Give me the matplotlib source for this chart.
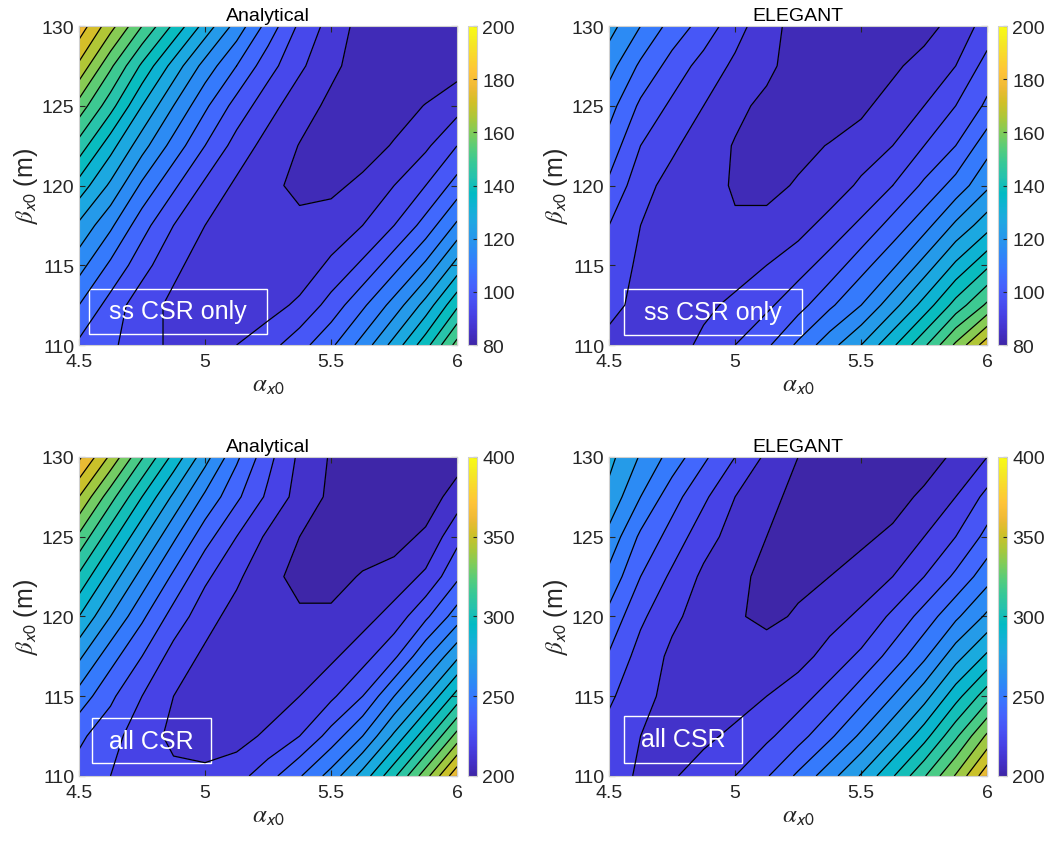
import numpy as np
import matplotlib
matplotlib.use('Agg')
import matplotlib.pyplot as plt
from matplotlib.colors import LinearSegmentedColormap, Normalize
from matplotlib.patches import Rectangle

# scan grid
alpha_x0 = [4.5, 4.625, 4.75, 4.875, 5.0, 5.125, 5.25, 5.375, 5.5, 5.625, 5.75, 5.875, 6.0]
beta_x0 = [110, 112.5, 115, 117.5, 120, 122.5, 125, 127.5, 130]

# values, one row per beta_x0
ss_analytical = [
    [103.7, 100.3, 95.8, 92.5, 91.4, 93.6, 97.0, 102.6, 109.3, 118.2, 129.4, 141.8, 157.4],
    [110.4, 102.6, 95.8, 92.5, 89.1, 89.1, 91.4, 94.7, 101.4, 109.3, 118.2, 129.4, 142.9],
    [118.2, 109.3, 101.4, 94.7, 91.4, 89.1, 89.1, 90.2, 94.7, 100.3, 108.2, 117.1, 129.4],
    [126.1, 117.1, 107.0, 99.2, 93.6, 90.2, 89.1, 89.1, 90.2, 93.6, 99.2, 107.0, 117.1],
    [136.2, 126.1, 114.9, 105.9, 98.1, 92.5, 89.1, 86.9, 86.9, 89.1, 93.6, 99.2, 107.0],
    [147.4, 135.0, 123.8, 113.8, 104.8, 97.0, 91.4, 87.8, 85.8, 85.8, 88.4, 92.5, 99.2],
    [158.6, 146.2, 132.8, 121.6, 111.5, 102.6, 95.8, 90.2, 86.9, 84.6, 85.8, 88.2, 91.4],
    [170.9, 156.3, 142.9, 130.6, 119.4, 110.4, 101.4, 94.7, 89.1, 85.8, 84.6, 84.6, 85.8],
    [181.0, 168.6, 155.2, 142.9, 130.6, 119.4, 108.2, 98.1, 91.4, 85.8, 83.5, 82.4, 83.5],
]
ss_elegant = [
    [92.5, 91.4, 91.4, 94.7, 99.2, 103.7, 111.5, 119.4, 127.2, 137.3, 148.5, 161.9, 175.4],
    [94.7, 92.5, 92.5, 92.5, 94.7, 98.1, 102.6, 109.3, 116.0, 125.0, 135.0, 146.2, 156.3],
    [97.0, 92.5, 90.2, 90.2, 91.4, 93.6, 97.0, 101.4, 108.2, 114.9, 123.8, 133.9, 142.9],
    [99.2, 93.6, 90.2, 89.1, 88.3, 89.1, 91.4, 95.8, 100.3, 107.0, 113.8, 122.7, 130.6],
    [103.7, 95.8, 91.4, 89.1, 87.7, 86.9, 88.4, 90.2, 94.7, 99.2, 105.9, 112.6, 120.5],
    [108.2, 99.2, 94.7, 90.2, 87.7, 86.9, 86.9, 88.2, 90.2, 93.6, 99.2, 104.8, 113.8],
    [112.6, 103.7, 98.1, 93.6, 89.1, 86.9, 85.8, 85.8, 86.9, 90.2, 93.6, 99.2, 105.9],
    [118.2, 109.3, 102.6, 97.0, 92.5, 89.1, 85.8, 85.8, 85.8, 86.9, 90.2, 93.6, 101.4],
    [123.8, 116.0, 108.2, 102.6, 95.8, 90.2, 85.8, 84.6, 83.5, 84.6, 85.8, 90.2, 95.8],
]
all_analytical = [
    [236, 230, 224, 222, 222, 226, 236, 249, 264, 284, 308, 336, 368],
    [242, 234, 224, 218, 216, 216, 222, 230, 244, 260, 282, 306, 334],
    [256, 242, 230, 220, 214, 212, 214, 220, 228, 240, 260, 280, 304],
    [272, 254, 240, 226, 218, 212, 211, 212, 218, 226, 238, 258, 278],
    [290, 270, 252, 236, 224, 216, 213, 211, 212, 216, 224, 238, 255],
    [308, 286, 266, 248, 232, 222, 212, 208, 206, 211, 214, 222, 238],
    [328, 304, 282, 262, 244, 230, 218, 210, 206, 204, 206, 212, 227],
    [350, 324, 300, 278, 258, 242, 228, 216, 208, 204, 202, 204, 215],
    [372, 348, 321, 297, 274, 252, 233, 218, 209, 204, 202, 203, 205],
]
all_elegant = [
    [223, 219, 219, 224, 230, 239, 252, 266, 281, 299, 319, 341, 367],
    [226, 220, 218, 218, 222, 228, 236, 248, 262, 278, 296, 318, 342],
    [232, 222, 218, 216, 216, 220, 226, 234, 246, 260, 276, 296, 316],
    [239, 226, 218, 214, 212, 214, 216, 224, 232, 244, 258, 276, 292],
    [247, 232, 222, 216, 211, 208, 211, 216, 222, 232, 244, 258, 272],
    [257, 240, 228, 218, 212, 208, 208, 210, 214, 220, 230, 242, 256],
    [267, 248, 236, 224, 216, 210, 206, 206, 208, 212, 220, 230, 243],
    [277, 260, 244, 232, 220, 212, 208, 204, 204, 206, 212, 220, 233],
    [283, 269, 256, 242, 230, 218, 210, 205, 203, 203, 205, 212, 220],
]

titles = ['Analytical', 'ELEGANT', 'Analytical', 'ELEGANT']
labels = ['ss CSR only', 'ss CSR only', 'all CSR', 'all CSR']

parula = [(0.2422, 0.1504, 0.6603), (0.2647, 0.1978, 0.7952), (0.2783, 0.2559, 0.8991),
          (0.2810, 0.3228, 0.9579), (0.2699, 0.3892, 0.9906), (0.2206, 0.4603, 0.9973),
          (0.1786, 0.5289, 0.9682), (0.1540, 0.5902, 0.9218), (0.1248, 0.6459, 0.8883),
          (0.0689, 0.6948, 0.8394), (0.0067, 0.7312, 0.7660), (0.1408, 0.7584, 0.6842),
          (0.2161, 0.7843, 0.5923), (0.3406, 0.8008, 0.4789), (0.5044, 0.7993, 0.3480),
          (0.6720, 0.7793, 0.2227), (0.8203, 0.7498, 0.1535), (0.9393, 0.7288, 0.2100),
          (0.9970, 0.7659, 0.2199), (0.9786, 0.8386, 0.1766), (0.9597, 0.9135, 0.1423),
          (0.9769, 0.9839, 0.0805)]
cmap = LinearSegmentedColormap.from_list('parula', parula)

plt.rcParams['font.family'] = ['Liberation Sans', 'DejaVu Sans']
plt.rcParams['mathtext.fontset'] = 'stix'

fig = plt.figure(figsize=(10.49, 8.45), dpi=100)
pos = [(0.0753, 0.5905), (0.5806, 0.5905), (0.0753, 0.0805), (0.5806, 0.0805)]
boxes = [(0.026, 0.035, 0.471, 0.141), (0.040, 0.032, 0.469, 0.144),
         (0.034, 0.040, 0.315, 0.141), (0.039, 0.042, 0.313, 0.145)]
maps = [ss_analytical, ss_elegant, all_analytical, all_elegant]

for i, (z, (x0, y0)) in enumerate(zip(maps, pos)):
    top = i < 2
    if top:
        vmin, vmax, step = 80, 200, 5.6
        levels = 76.8 + step * np.arange(23)
    else:
        vmin, vmax, step = 200, 400, 10
        levels = np.arange(200, 410, 10)
    norm = Normalize(vmin, vmax)
    # each band takes the colour of its lower contour level, as in MATLAB
    band_norm = Normalize(vmin + step / 2, vmax + step / 2)
    ax = fig.add_axes([x0, y0, 0.3605, 0.3775])
    ax.contourf(alpha_x0, beta_x0, z, levels=levels, cmap=cmap, norm=band_norm, extend='both')
    ax.contour(alpha_x0, beta_x0, z, levels=levels, colors='k', linewidths=0.9)
    ax.set_xlim(4.5, 6)
    ax.set_ylim(110, 130)
    ax.set_xticks([4.5, 5, 5.5, 6])
    ax.set_xticklabels(['4.5', '5', '5.5', '6'])
    ax.set_yticks([110, 115, 120, 125, 130])
    ax.tick_params(direction='in', length=4, labelsize=14, colors='#262626', top=True, right=True)
    ax.tick_params(axis='x', pad=6)
    for s in ax.spines.values():
        s.set_color('#d0d0d0')
        s.set_linewidth(0.8)
    ax.set_title(titles[i], fontsize=14, pad=4)
    ax.set_xlabel(r'$\alpha_{\mathsf{x0}}$', fontsize=18, labelpad=1, color='#262626')
    ax.set_ylabel(r'$\beta_{\mathsf{x0}}$ (m)', fontsize=18, labelpad=1, color='#262626')

    bx, by, bw, bh = boxes[i]
    ax.add_patch(Rectangle((bx, by), bw, bh, transform=ax.transAxes, fill=False, ec='white', lw=1.0))
    ax.text(bx + bw / 2, by + bh / 2, labels[i], transform=ax.transAxes, color='white',
            fontsize=18, ha='center', va='center')

    cax = fig.add_axes([x0 + 0.3705, y0, 0.0092, 0.3775])
    cb = fig.colorbar(plt.cm.ScalarMappable(norm=norm, cmap=cmap), cax=cax)
    cb.set_ticks(np.arange(vmin, vmax + 1, 20 if top else 50))
    cb.ax.tick_params(direction='in', length=3, labelsize=14, colors='#262626')
    cb.outline.set_edgecolor('#d0d0d0')

fig.savefig('out.png', dpi=100)
plt.close()
